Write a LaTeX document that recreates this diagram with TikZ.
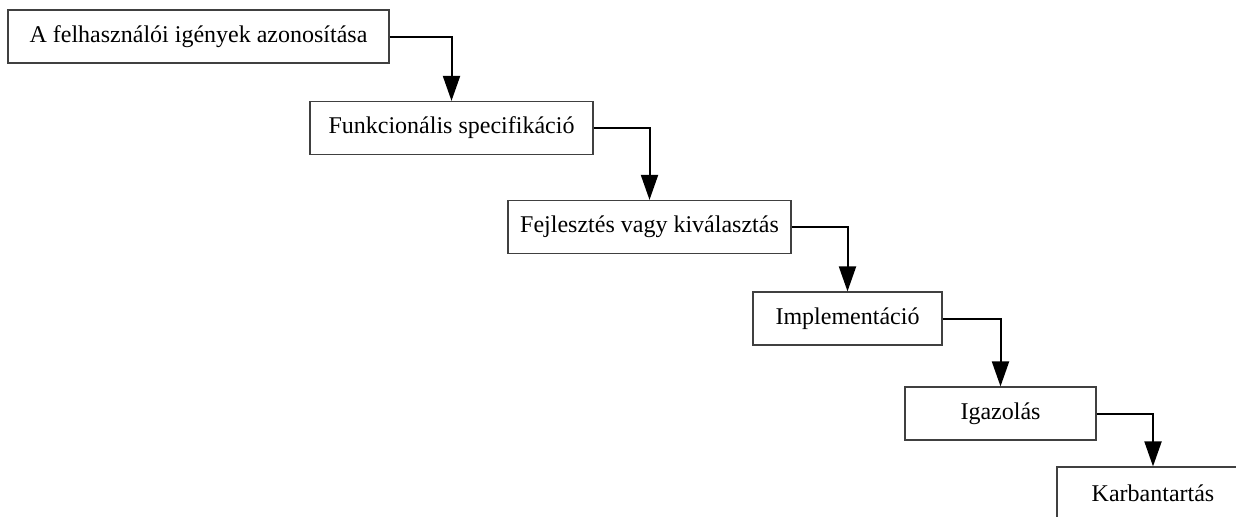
\documentclass[tikz,border=0pt]{standalone}
\usepackage{fontspec}
\setmainfont{Liberation Serif}
\usetikzlibrary{arrows.meta}

\begin{document}
\begin{tikzpicture}[x=0.5pt,y=-0.5pt,
        phase/.style={draw=black!75, line width=0.6pt, inner sep=0pt,
            minimum height=26.5pt, font=\fontsize{12}{14}\selectfont},
        flow/.style={line width=1pt, -{Triangle[length=12.5pt,width=8.5pt]}}]
        \useasboundingbox (0,0) rectangle (1236,516);
        \clip (0,0) rectangle (1236,516);
        % phases of the process
        \node [phase, minimum width=190.5pt] (ident) at (198.5,36.5) {A felhasználói igények azonosítása};
        \node [phase, minimum width=141.5pt] (spec) at (451.5,128) {Funkcionális specifikáció};
        \node [phase, minimum width=141.5pt] (fejl) at (649.5,227) {Fejlesztés vagy kiválasztás};
        \node [phase, minimum width=94.5pt] (impl) at (847.5,318.5) {Implementáció};
        \node [phase, minimum width=95.5pt] (igaz) at (1000.5,413.5) {Igazolás};
        \node [phase, minimum width=96pt] (karb) at (1153,493.5) {Karbantartás};
        % steps
        \draw [flow] (ident.east) -| (spec.north);
        \draw [flow] (spec.east) -| (fejl.north);
        \draw [flow] (fejl.east) -| (impl.north);
        \draw [flow] (impl.east) -| (igaz.north);
        \draw [flow] (igaz.east) -| (karb.north);
\end{tikzpicture}
\end{document}
